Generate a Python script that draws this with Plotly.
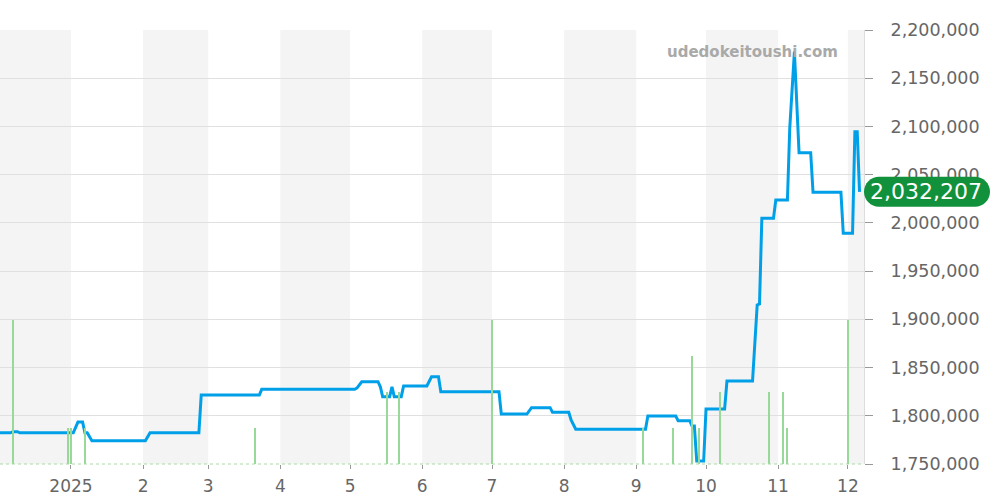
import plotly.graph_objects as go

# ---- data ----
price_dates = [
    "2024-12-01", "2024-12-06", "2024-12-07", "2024-12-09", "2024-12-10",
    "2025-01-02", "2025-01-04", "2025-01-06", "2025-01-07", "2025-01-08", "2025-01-10",
    "2025-02-02", "2025-02-04", "2025-02-25", "2025-02-26",
    "2025-03-23", "2025-03-24",
    "2025-05-03", "2025-05-04", "2025-05-06", "2025-05-13", "2025-05-14", "2025-05-15",
    "2025-05-18", "2025-05-19", "2025-05-20", "2025-05-23", "2025-05-24",
    "2025-06-03", "2025-06-05", "2025-06-08", "2025-06-09",
    "2025-07-04", "2025-07-05", "2025-07-16", "2025-07-18", "2025-07-26", "2025-07-27",
    "2025-08-03", "2025-08-04", "2025-08-06",
    "2025-09-05", "2025-09-06", "2025-09-18", "2025-09-19", "2025-09-24", "2025-09-25",
    "2025-09-26", "2025-09-27", "2025-09-30", "2025-10-01",
    "2025-10-09", "2025-10-10", "2025-10-21", "2025-10-23", "2025-10-24", "2025-10-25",
    "2025-10-30", "2025-10-31",
    "2025-11-05", "2025-11-06", "2025-11-08", "2025-11-10", "2025-11-15", "2025-11-16",
    "2025-11-28", "2025-11-29",
    "2025-12-03", "2025-12-04", "2025-12-05", "2025-12-06",
]
price_values = [
    1782400, 1782400, 1783500, 1783500, 1782400,
    1782400, 1793500, 1793500, 1782400, 1782400, 1774200,
    1774200, 1782400, 1782400, 1821500,
    1821500, 1827400,
    1827400, 1828900, 1835300, 1835300, 1830100, 1819800,
    1819800, 1830000, 1819800, 1819800, 1830900,
    1830900, 1840500, 1840500, 1825000,
    1825000, 1801800, 1801800, 1808400, 1808400, 1803600,
    1803600, 1795600, 1786000,
    1786000, 1799800, 1799800, 1794900, 1794900, 1789400,
    1789400, 1753100, 1753100, 1807000,
    1807000, 1836000, 1836000, 1914900, 1916000, 2004700,
    2004700, 2023700,
    2023700, 2098000, 2177500, 2072800, 2072800, 2031700,
    2031700, 1989200,
    1989200, 2094500, 2094500, 2032207,
]

volume_dates = [
    "2024-12-07", "2024-12-31", "2025-01-01", "2025-01-07", "2025-03-21",
    "2025-05-17", "2025-05-22", "2025-07-01", "2025-09-04", "2025-09-17",
    "2025-09-25", "2025-09-28", "2025-10-07", "2025-10-28", "2025-11-03",
    "2025-11-05", "2025-12-01",
]
volume_values = [4, 1, 1, 1, 1, 2, 2, 4, 1, 1, 3, 1, 2, 2, 2, 1, 4]

month_starts = ["2025-01-01", "2025-02-01", "2025-03-01", "2025-04-01", "2025-05-01",
                "2025-06-01", "2025-07-01", "2025-08-01", "2025-09-01", "2025-10-01",
                "2025-11-01", "2025-12-01"]
month_labels = ["2025", "2", "3", "4", "5", "6", "7", "8", "9", "10", "11", "12"]

shaded_months = [("2024-12-01", "2025-01-01"), ("2025-02-01", "2025-03-01"),
                 ("2025-04-01", "2025-05-01"), ("2025-06-01", "2025-07-01"),
                 ("2025-08-01", "2025-09-01"), ("2025-10-01", "2025-11-01"),
                 ("2025-12-01", "2026-01-01")]

x_range = ["2024-12-01 12:00", "2025-12-07 22:00"]
y_range = [1750000, 2200000]
vol_range = [0, 12.06]

last_value = price_values[-1]
FONT = "DejaVu Sans"

fig = go.Figure()

fig.add_trace(go.Bar(
    x=volume_dates, y=volume_values, yaxis="y2",
    width=0.55 * 86400000,
    marker=dict(color="#98d898", line=dict(width=0)),
    hoverinfo="skip", showlegend=False,
))

fig.add_trace(go.Scatter(
    x=price_dates, y=price_values, mode="lines",
    line=dict(color="#00a0e9", width=3),
    hoverinfo="skip", showlegend=False,
))

shapes = []
for a, b in shaded_months:
    shapes.append(dict(type="rect", xref="x", yref="paper", x0=a, x1=b, y0=0, y1=1,
                       fillcolor="#f4f4f4", line=dict(width=0), layer="below"))
shapes.append(dict(type="line", xref="paper", yref="paper", x0=0, x1=1, y0=0, y1=0,
                   line=dict(color="#a8dca8", width=1, dash="dot"), layer="above"))

# rounded pill for the last value
r = 15
w = 126
pill = (f"M {r},-{r} L {w - r},-{r} C {w - r + 8.3},-{r} {w},-8.3 {w},0 "
        f"C {w},8.3 {w - r + 8.3},{r} {w - r},{r} L {r},{r} "
        f"C 6.7,{r} 0,8.3 0,0 C 0,-8.3 6.7,-{r} {r},-{r} Z")
shapes.append(dict(type="path", xref="paper", yref="y", xsizemode="pixel", ysizemode="pixel",
                   xanchor=1, yanchor=last_value, path=pill,
                   fillcolor="#11913b", line=dict(width=0), layer="above"))

fig.update_layout(
    width=1000, height=500,
    margin=dict(l=0, r=136, t=30, b=36),
    paper_bgcolor="white", plot_bgcolor="white",
    font=dict(family=FONT, color="#666666"),
    shapes=shapes,
    bargap=0,
    xaxis=dict(
        type="date", range=x_range,
        tickvals=month_starts, ticktext=month_labels,
        ticks="outside", ticklen=4, tickcolor="#999999", tickwidth=1,
        showgrid=False, zeroline=False, showline=False,
        ticklabelstandoff=3,
        tickfont=dict(size=17, color="#666666", family=FONT),
    ),
    yaxis=dict(
        side="right", range=y_range, dtick=50000, tickformat=",",
        ticks="outside", ticklen=8, tickcolor="#999999",
        showgrid=True, gridcolor="#e0e0e0", gridwidth=1,
        zeroline=False, showline=True, linecolor="#dddddd", linewidth=1,
        ticklabelstandoff=14,
        tickfont=dict(size=17.5, color="#666666", family=FONT),
    ),
    yaxis2=dict(overlaying="y", range=vol_range, visible=False, side="left"),
    annotations=[
        dict(text="<b>udedokeitoushi.com</b>", xref="paper", yref="paper",
             x=840 / 864, y=(464 - 52) / 434, xanchor="right", yanchor="middle",
             showarrow=False, font=dict(size=15, color="#a9a9a9", family=FONT)),
        dict(text=f"{last_value:,}", xref="paper", yref="y", x=1, y=last_value,
             xanchor="left", yanchor="middle", xshift=4, showarrow=False,
             font=dict(size=22, color="white", family=FONT)),
    ],
)

fig.write_html("out.html", config={"displayModeBar": False},
               post_script="document.body.style.margin='0';document.body.style.padding='0';")
